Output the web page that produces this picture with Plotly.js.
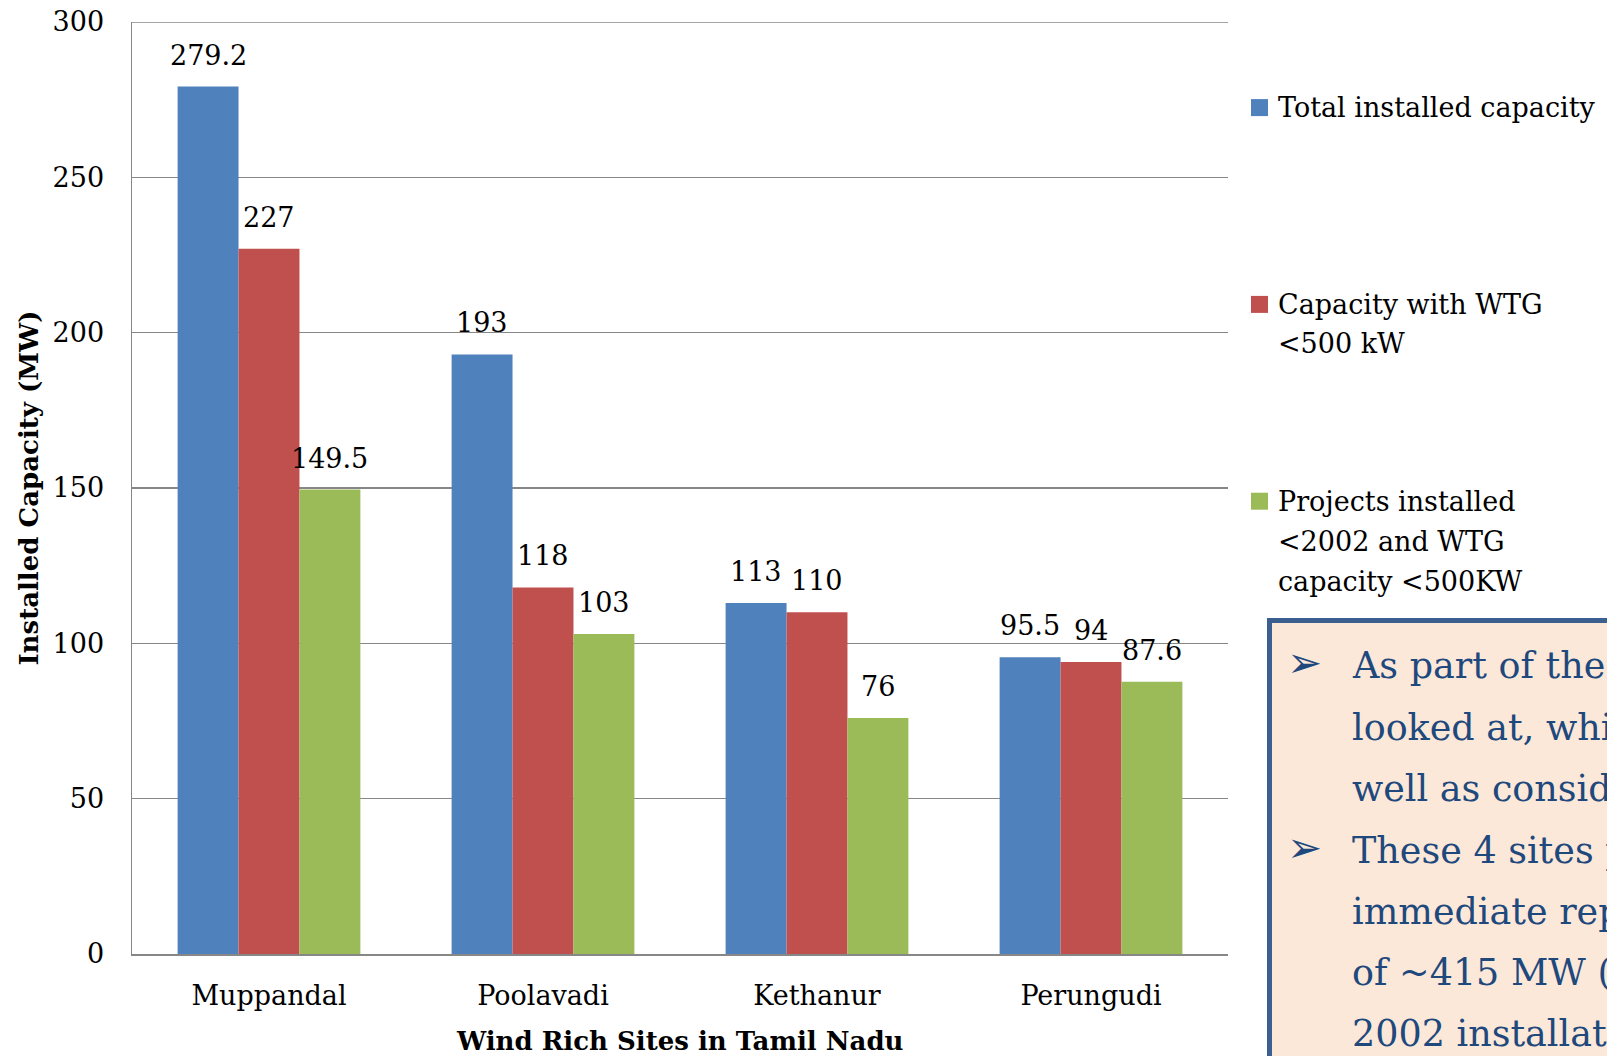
<!DOCTYPE html>
<html><head><meta charset="utf-8">
<script src="https://cdn.plot.ly/plotly-3.0.1.min.js"></script>
<style>html,body{margin:0;padding:0;background:#fff;overflow:hidden}</style>
</head><body><div id="chart" style="width:1607px;height:1056px"></div>
<script>
// ---- data ----
const sites = ["Muppandal", "Poolavadi", "Kethanur", "Perungudi"];
const totalCapacity = [279.2, 193, 113, 95.5];
const wtgBelow500 = [227, 118, 110, 94];
const pre2002Below500 = [149.5, 103, 76, 87.6];
const legendLines = [
  ["Total installed capacity"],
  ["Capacity with WTG", "&lt;500 kW"],
  ["Projects installed", "&lt;2002 and WTG", "capacity &lt;500KW"]
];
const yTicks = [0, 50, 100, 150, 200, 250, 300];
const yMax = 300;
const xTitle = "Wind Rich Sites in Tamil Nadu";
const yTitle = "Installed Capacity (MW)";
const noteLines = [
  "As part of the study, four sites were",
  "looked at, which have high potential as",
  "well as considerable old installations",
  "These 4 sites provide potential for",
  "immediate repowering with a capacity",
  "of ~415 MW (of pre-",
  "2002 installations)"
];
const noteBulletLines = [0, 3];

// ---- styling ----
const colors = ["#4F81BD", "#C0504D", "#9BBB59"];
const series = [totalCapacity, wtgBelow500, pre2002Below500];
const FONT = "DejaVu Serif";
const L = 132, R = 1228, T = 22, B = 954;
const px = v => (v - L) / (R - L);
const py = v => (B - v) / (B - T);
const bargap = 0.333;
const barW = (1 - bargap) / 3;

const traces = series.map((vals, i) => ({
  type: "bar",
  x: sites,
  y: vals,
  name: legendLines[i].join(" ").replace(/&lt;/g, "<"),
  marker: {color: colors[i], line: {width: 0}},
  hoverinfo: "x+y",
  showlegend: false
}));

const annotations = [];
// data labels
series.forEach((vals, si) => {
  vals.forEach((v, ci) => {
    annotations.push({
      xref: "x", yref: "y", x: ci + (si - 1) * barW, y: v,
      text: String(v), showarrow: false, xanchor: "center", yanchor: "bottom",
      yshift: 14, font: {family: FONT, size: 27, color: "#000"}
    });
  });
});
// x axis title
annotations.push({
  xref: "paper", yref: "paper", x: 0.5, y: py(1041),
  text: "<b>" + xTitle + "</b>", showarrow: false, xanchor: "center", yanchor: "middle",
  font: {family: FONT, size: 26, color: "#000"}
});
// legend
const legendY = [[107.6], [304.4, 343.3], [501.2, 541.1, 581.1]];
legendLines.forEach((lines, i) => {
  lines.forEach((t, j) => {
    annotations.push({
      xref: "paper", yref: "paper", x: px(1276), y: py(legendY[i][j]),
      text: t, showarrow: false, xanchor: "left", yanchor: "middle",
      font: {family: FONT, size: 27, color: "#000"}
    });
  });
});
// note box text
const noteY = [665, 727, 788, 850, 911, 972, 1033];
noteLines.forEach((l, i) => {
  annotations.push({
    xref: "paper", yref: "paper", x: px(1350), y: py(noteY[i]),
    text: l, showarrow: false, xanchor: "left", yanchor: "middle",
    font: {family: FONT, size: 36.5, color: "#1F497D"}
  });
});
noteBulletLines.forEach(i => {
  annotations.push({
    xref: "paper", yref: "paper", x: px(1304), y: py(noteY[i] - 3),
    text: "➢", showarrow: false, xanchor: "center", yanchor: "middle",
    font: {family: "DejaVu Sans", size: 42, color: "#1F497D"}
  });
});

const shapes = [];
// top gridline at y = 300
shapes.push({type: "line", xref: "paper", yref: "y", x0: 0, x1: 1, y0: yMax, y1: yMax,
  line: {color: "#878787", width: 1.5}});
// legend swatches
const swatchY = [107.6, 304.4, 501.2];
swatchY.forEach((y, i) => {
  shapes.push({type: "rect", xref: "paper", yref: "paper",
    x0: px(1251), x1: px(1268), y0: py(y + 8.5), y1: py(y - 8.5),
    fillcolor: colors[i], line: {width: 0}});
});
// note box
shapes.push({type: "rect", xref: "paper", yref: "paper", layer: "below",
  x0: px(1269.5), x1: px(1700), y0: py(1100), y1: py(620.5),
  fillcolor: "#FCE8D9", line: {color: "#3B6090", width: 5}});

const layout = {
  width: 1607, height: 1056,
  margin: {l: L, r: 1607 - R, t: T, b: 1056 - B, pad: 0},
  paper_bgcolor: "#fff", plot_bgcolor: "#fff",
  barmode: "group", bargap: bargap, bargroupgap: 0,
  showlegend: false,
  font: {family: FONT, size: 27, color: "#000"},
  xaxis: {
    type: "category", range: [-0.5, 3.5], showgrid: false,
    showline: true, linecolor: "#878787", linewidth: 1.5,
    ticks: "", ticklabelstandoff: 17,
    tickfont: {family: FONT, size: 27, color: "#000"},
    fixedrange: true
  },
  yaxis: {
    range: [0, yMax], tickvals: yTicks, ticktext: yTicks.map(String),
    showgrid: true, gridcolor: "#878787", gridwidth: 1.5,
    showline: true, linecolor: "#878787", linewidth: 1.5,
    zeroline: false, ticks: "", ticklabelstandoff: 21,
    tickfont: {family: FONT, size: 27, color: "#000"},
    title: {text: "<b>" + yTitle + "</b>", standoff: 6,
      font: {family: FONT, size: 26, color: "#000"}},
    fixedrange: true
  },
  annotations: annotations,
  shapes: shapes
};

Plotly.newPlot("chart", traces, layout, {displayModeBar: false, staticPlot: true});
</script>
</body></html>
